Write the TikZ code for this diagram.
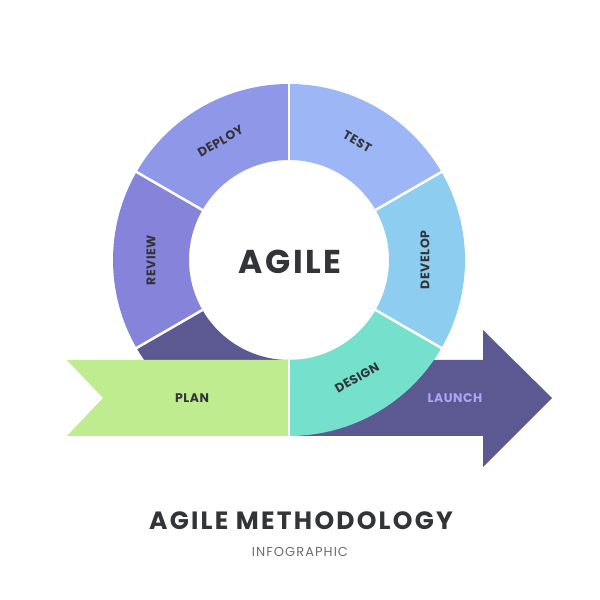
\documentclass[tikz,border=0pt]{standalone}
\usepackage{fontspec}
\setmainfont{Poppins}
\usetikzlibrary{calc}
\definecolor{cdeploy}{HTML}{8F97E8}
\definecolor{creview}{HTML}{8683DA}
\definecolor{ctest}{HTML}{9DB6F6}
\definecolor{cdevelop}{HTML}{8DCDF0}
\definecolor{cdesign}{HTML}{75E1CD}
\definecolor{cdark}{HTML}{5C5992}
\definecolor{cplan}{HTML}{BFEC8E}
\definecolor{claunch}{HTML}{AAA7F3}
\definecolor{ctext}{HTML}{333438}
\definecolor{cgray}{HTML}{6E6E6E}
\newcommand\ringsector[3]{\fill[#1] ($(C)+(#2:176pt)$) arc[start angle=#2,end angle=#3,radius=176pt] -- ($(C)+(#3:100pt)$) arc[start angle=#3,end angle=#2,radius=100pt] -- cycle;}
\newcommand\ringsep[1]{\draw[sepline] ($(C)+(#1:98pt)$) -- ($(C)+(#1:178pt)$);}
\tikzset{
  sepline/.style={white,line width=2.5pt},
  seglabel/.style={text=ctext,font=\bfseries\fontsize{12.5}{14}\selectfont\addfontfeatures{LetterSpace=4},inner sep=0pt},
}
\begin{document}
\begin{tikzpicture}[x=1pt,y=1pt]
\fill[white] (0,0) rectangle (600,600);
\useasboundingbox (0,0) rectangle (600,600);
\coordinate (C) at (289,340);
% ring sectors behind
\ringsector{cdark}{210}{270}
\ringsector{creview}{150}{210}
\ringsector{cdeploy}{90}{150}
\ringsector{ctest}{30}{90}
\ringsector{cdevelop}{-30}{30}
% launch arrow
\fill[cdark] (289,240) -- (483,240) -- (483,270) -- (552,202) -- (483,133) -- (483,164) -- (289,164) -- cycle;
% design sector
\ringsector{cdesign}{-90}{-30}
% plan ribbon
\fill[cplan] (67,240) -- (289,240) -- (289,164) -- (67,164) -- (103,202) -- cycle;
% separators
\ringsep{90}
\ringsep{30}
\ringsep{-30}
\ringsep{150}
\ringsep{210}
\draw[sepline] (289,241) -- (289,163);
% labels
\node[seglabel,rotate=30] (deploy) at ($(C)+(120:137pt)$) {DEPLOY};
\node[seglabel,rotate=-30] (test) at ($(C)+(60:137pt)$) {TEST};
\node[seglabel,rotate=90] (develop) at ($(C)+(0:136pt)$) {DEVELOP};
\node[seglabel,rotate=90] (review) at ($(C)+(180:138pt)$) {REVIEW};
\node[seglabel,rotate=30] (design) at ($(C)+(-60:136pt)$) {DESIGN};
\node[seglabel] (plan) at (192,202) {PLAN};
\node[seglabel,text=claunch] (launch) at (455,202) {LAUNCH};
\node[text=ctext,font=\bfseries\fontsize{33}{37}\selectfont\addfontfeatures{LetterSpace=8},inner sep=0pt] (agile) at (290,338) {AGILE};
\node[text=ctext,font=\bfseries\fontsize{25}{28}\selectfont\addfontfeatures{LetterSpace=9},inner sep=0pt] (title) at (301,79) {AGILE METHODOLOGY};
\node[text=cgray,font=\fontsize{13}{15}\selectfont\addfontfeatures{LetterSpace=8},inner sep=0pt] (sub) at (300,48) {INFOGRAPHIC};
\end{tikzpicture}
\end{document}
